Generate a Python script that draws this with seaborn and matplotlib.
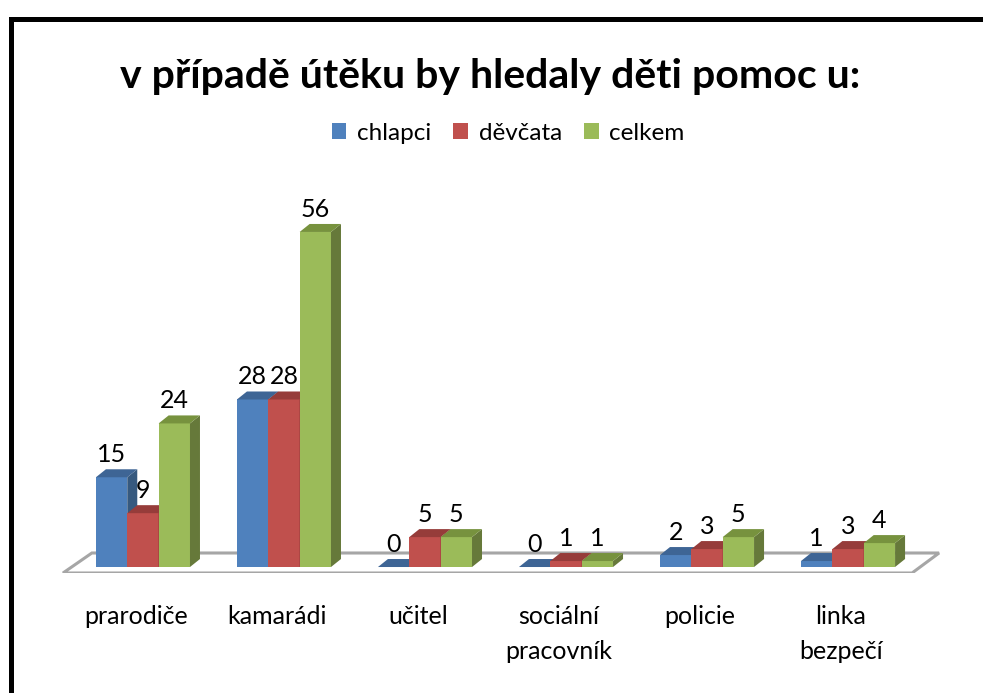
import matplotlib
matplotlib.use("Agg")
import matplotlib.pyplot as plt
from matplotlib.lines import Line2D
from matplotlib.patches import Polygon
from matplotlib.transforms import ScaledTranslation
import numpy as np
import pandas as pd
import seaborn as sns

# data
categories = ["prarodiče", "kamarádi", "učitel", "sociální\npracovník", "policie", "linka\nbezpečí"]
series = ["chlapci", "děvčata", "celkem"]
chlapci = [15, 28, 0, 0, 2, 1]
devcata = [9, 28, 5, 1, 3, 3]
celkem = [24, 56, 5, 1, 5, 4]

front = ["#4F81BD", "#C0504D", "#9BBB59"]
top = ["#3E6595", "#963C3A", "#77923E"]
side = ["#36597F", "#8A3735", "#66793A"]

df = pd.DataFrame({
    "kategorie": categories * 3,
    "skupina": np.repeat(series, len(categories)),
    "pocet": chlapci + devcata + celkem,
})

sns.set_theme(style="white")
plt.rcParams["font.family"] = ["Lato", "DejaVu Sans"]
plt.rcParams["text.color"] = "black"
plt.rcParams["xtick.color"] = "black"

fig = plt.figure(figsize=(9.83, 6.93), dpi=100)
ax = fig.add_axes([40 / 983, 120 / 693, 920 / 983, 423 / 693])
sns.barplot(data=df, x="kategorie", y="pocet", hue="skupina", hue_order=series,
            palette=front, saturation=1, width=0.667, linewidth=0, ax=ax)
ax.set_xlim(-0.73, 5.794)
ax.set_ylim(-1.0, 69.7)
ax.get_legend().remove()

# pixel -> data scale for the 3d effect
p0 = ax.transData.transform((0, 0))
p1 = ax.transData.transform((1, 1))
sx, sy = p1[0] - p0[0], p1[1] - p0[1]
ddx, ddy = 10 / sx, 8 / sy

# floor slab
x_lo, x_hi = -0.567, 5.454
fdx, fdy = 27 / sx, 20 / sy
floor = Polygon([(x_lo, -1.0), (x_hi, -1.0), (x_hi + fdx, -1.0 + fdy), (x_lo + fdx * 1.07, -1.0 + fdy)],
                closed=True, facecolor="white", edgecolor="#A6A6A6", lw=2.2, zorder=1)
ax.add_patch(floor)

for k, cont in enumerate(ax.containers):
    for p in cont:
        x0, w, h = p.get_x(), p.get_width(), p.get_height()
        z = 3 + k * 0.1
        p.set_zorder(z)
        ax.add_patch(Polygon([(x0, h), (x0 + w, h), (x0 + w + ddx, h + ddy), (x0 + ddx, h + ddy)],
                             closed=True, facecolor=top[k], lw=0, zorder=z + 0.02))
        ax.add_patch(Polygon([(x0 + w, 0), (x0 + w + ddx, ddy), (x0 + w + ddx, h + ddy), (x0 + w, h)],
                             closed=True, facecolor=side[k], lw=0, zorder=z + 0.01))
    lbls = ax.bar_label(cont, padding=8, fontsize=18, color="black")
    for t in lbls:
        t.set_zorder(10)

ax.set_xlabel("")
ax.set_ylabel("")
ax.set_yticks([])
ax.tick_params(axis="x", length=0, pad=23, labelsize=18, labelcolor="black")
for lbl in ax.get_xticklabels():
    lbl.set_linespacing(1.65)
    lbl.set_transform(lbl.get_transform() + ScaledTranslation(-0.07, 0, fig.dpi_scale_trans))
for s in ax.spines.values():
    s.set_visible(False)
ax.patch.set_alpha(0)

handles, labels = ax.get_legend_handles_labels()
fig.legend(handles, labels, loc="center", bbox_to_anchor=(0.517, 0.808), ncol=3, frameon=False,
           fontsize=17.5, handlelength=0.6, handleheight=0.6, handletextpad=0.45, columnspacing=0.9,
           labelcolor="black")

fig.text(0.4985, 0.889, "v případě útěku by hledaly děti pomoc u:", ha="center", va="center",
         fontsize=29.5, fontweight="bold", color="black")

# outer frame (top and left edges)
fig.add_artist(Line2D([10.5 / 983, 10.5 / 983], [0, 1 - 18.5 / 693], transform=fig.transFigure,
                      color="black", lw=3.6, solid_capstyle="projecting"))
fig.add_artist(Line2D([10.5 / 983, 1], [1 - 18.5 / 693, 1 - 18.5 / 693], transform=fig.transFigure,
                      color="black", lw=3.6, solid_capstyle="projecting"))

fig.savefig("out.png", dpi=100)
